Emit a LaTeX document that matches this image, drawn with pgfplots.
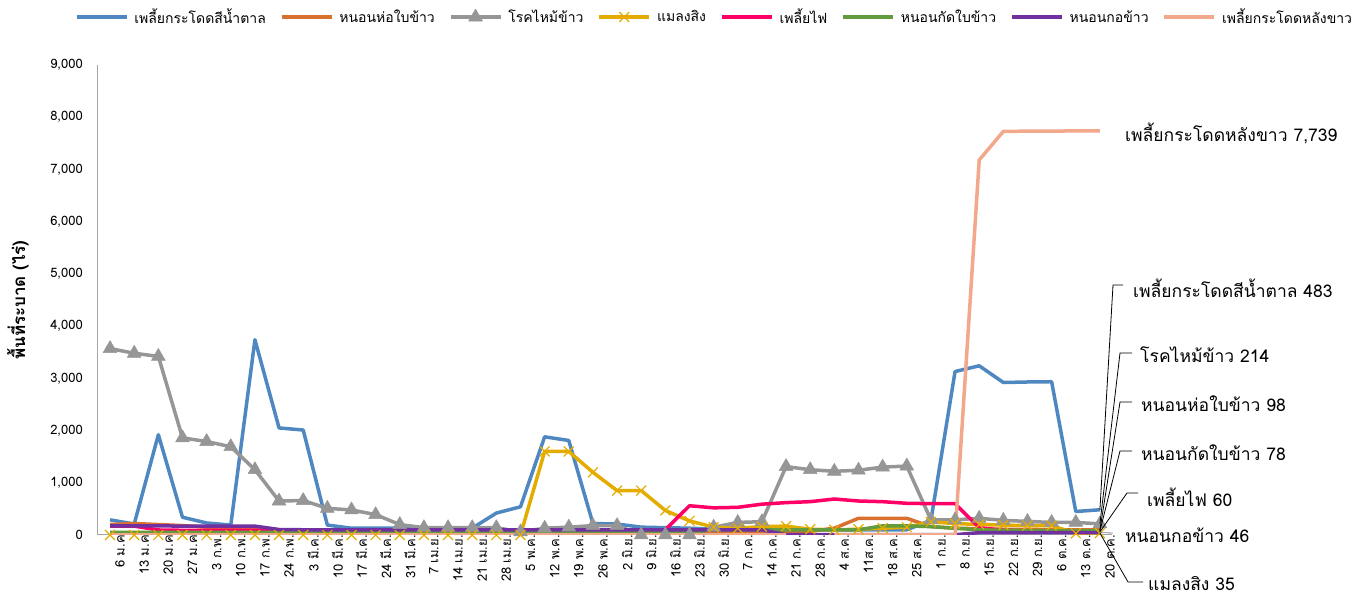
\documentclass[border=0pt]{standalone}
\usepackage{pgfplots}
\pgfplotsset{compat=1.18}
\usepackage{pgfplotstable}
\usepackage{fontspec}
\setmainfont{Loma}[Script=Thai]
\definecolor{cB}{HTML}{4F88C0}
\definecolor{cO}{HTML}{D8702F}
\definecolor{cG}{HTML}{969696}
\definecolor{cY}{HTML}{E5AC00}
\definecolor{cP}{HTML}{FF0066}
\definecolor{cGr}{HTML}{629C3E}
\definecolor{cPu}{HTML}{7030A0}
\definecolor{cS}{HTML}{F2A88A}
\pgfplotstableread{
i b o g y p gr pu s
0 290 200 3570 0 170 50 175 0
1 210 220 3480 0 170 50 175 0
2 1920 200 3420 0 96 50 175 0
3 340 180 1860 0 90 50 170 0
4 230 150 1790 0 90 50 170 0
5 190 120 1690 0 90 50 170 0
6 3740 100 1250 0 90 50 170 0
7 2050 80 650 0 90 50 105 0
8 2010 70 660 0 90 50 100 0
9 190 60 510 0 90 50 100 0
10 130 60 480 0 90 50 100 0
11 130 60 390 0 90 50 100 0
12 130 60 200 0 90 50 100 0
13 130 60 140 0 90 50 100 0
14 130 60 140 0 90 50 100 0
15 130 60 140 0 90 50 100 0
16 420 60 140 0 90 50 100 0
17 540 60 60 0 90 50 100 0
18 1880 60 130 1600 90 50 100 0
19 1810 60 150 1600 90 50 100 0
20 220 60 180 1200 90 50 100 0
21 210 60 180 850 90 50 100 0
22 150 60 0 850 90 50 100 0
23 140 60 0 470 100 50 100 0
24 130 60 0 270 560 50 100 0
25 110 60 150 150 520 100 100 0
26 100 60 240 130 530 100 100 0
27 100 60 255 160 590 100 100 0
28 100 60 1310 170 620 100 5 0
29 100 70 1250 110 638 100 5 nan
30 100 130 1220 100 689 100 5 0
31 100 320 1240 110 651 100 5 0
32 100 320 1300 130 638 175 5 0
33 100 320 1320 150 607 175 5 0
34 280 160 290 250 600 160 5 0
35 3130 130 290 220 600 130 5 0
36 3240 120 320 200 140 100 45 7180
37 2920 110 280 190 90 90 45 7730
38 2930 110 260 180 80 85 45 7732
39 2935 100 240 180 70 80 45 7735
40 450 100 240 30 65 80 45 7737
41 483 98 214 35 60 78 46 7739
}\datatable
\newcommand{\tickfont}{\fontsize{13}{15}\selectfont}
\newcommand{\annfont}{\fontsize{17.5}{20}\selectfont}
\begin{document}
\begin{tikzpicture}
\path[use as bounding box] (0,0) rectangle (1370pt,601pt);
\begin{axis}[
  at={(98pt,66pt)}, anchor=south west,
  scale only axis, width=1014pt, height=470pt,
  xmin=-0.5, xmax=41.5, ymin=0, ymax=9000,
  axis x line*=bottom, axis y line*=left,
  axis line style={draw=gray!70, line width=1pt},
  major tick length=0pt,
  xtick={0,...,41},
  xticklabels={{6 ม.ค},{13 ม.ค},{20 ม.ค},{27 ม.ค},{3 ก.พ.},{10 ก.พ.},{17 ก.พ.},{24 ก.พ.},{3 มี.ค.},{10 มี.ค.},{17 มี.ค.},{24 มี.ค.},{31 มี.ค.},{7 เม.ย.},{14 เม.ย.},{21 เม.ย.},{28 เม.ย.},{5 พ.ค.},{12 พ.ค.},{19 พ.ค.},{26 พ.ค.},{2 มิ.ย.},{9 มิ.ย.},{16 มิ.ย.},{23 มิ.ย.},{30 มิ.ย.},{7 ก.ค.},{14 ก.ค.},{21 ก.ค.},{28 ก.ค.},{4 ส.ค.},{11ส.ค.},{18 ส.ค.},{25 ส.ค.},{1 ก.ย.},{8 ก.ย.},{15 ก.ย.},{22 ก.ย.},{29 ก.ย.},{6 ต.ค.},{13 ต.ค.},{20 ต.ค.}},
  xticklabel style={rotate=90, anchor=east, inner sep=0pt, yshift=-10pt, font=\tickfont},
  ytick={0,1000,...,9000},
  yticklabel style={anchor=east, inner sep=0pt, xshift=-15pt, font=\tickfont},
  /pgf/number format/.cd, 1000 sep={,}, assume math mode=true, /pgfplots/.cd,
  ylabel={\bfseries พื้นที่ระบาด (ไร่)},
  ylabel style={at={(axis description cs:-0.079,0.5)}, anchor=center, rotate=0, font=\fontsize{17}{19}\selectfont},
  unbounded coords=jump,
  every axis plot/.append style={line width=3.5pt, line join=round},
  legend columns=8,
  legend cell align=left,
  legend image code/.code={\draw[mark repeat=2,mark phase=2,#1] plot coordinates {(0pt,0pt) (25pt,0pt) (50pt,0pt)};},
  legend style={at={(axis description cs:0.607,1.102)}, anchor=center, draw=none, fill=none,
    font=\fontsize{14}{16}\selectfont, inner sep=0pt, nodes={inner sep=0pt},
    /tikz/every odd column/.append style={column sep=6pt},
    /tikz/every even column/.append style={column sep=14pt}},
]
\addplot[cB] table[x=i,y=b]{\datatable}; \addlegendentry{เพลี้ยกระโดดสีน้ำตาล}
\addplot[cO] table[x=i,y=o]{\datatable}; \addlegendentry{หนอนห่อใบข้าว}
\addplot[cG, mark=triangle*, mark size=8pt, mark options={line width=0.5pt}] table[x=i,y=g]{\datatable}; \addlegendentry{โรคไหม้ข้าว}
\addplot[cY, mark=x, mark size=7pt, mark options={line width=1.2pt}] table[x=i,y=y]{\datatable}; \addlegendentry{แมลงสิง}
\addplot[cP] table[x=i,y=p]{\datatable}; \addlegendentry{เพลี้ยไฟ}
\addplot[cGr] table[x=i,y=gr]{\datatable}; \addlegendentry{หนอนกัดใบข้าว}
\addplot[cPu] table[x=i,y=pu]{\datatable}; \addlegendentry{หนอนกอข้าว}
\addplot[cS] table[x=i,y=s]{\datatable}; \addlegendentry{เพลี้ยกระโดดหลังขาว}
\coordinate (eB) at (axis cs:41,483);
\coordinate (eG) at (axis cs:41,214);
\coordinate (eO) at (axis cs:41,98);
\coordinate (eGr) at (axis cs:41,78);
\coordinate (eP) at (axis cs:41,60);
\coordinate (ePu) at (axis cs:41,46);
\coordinate (eY) at (axis cs:41,35);
\end{axis}
\begin{scope}[line width=0.8pt, black]
\draw (eB) -- (1113pt,316pt) -- (1123pt,316pt);
\draw (eG) -- (1120pt,248pt) -- (1132pt,248pt);
\draw (eO) -- (1120pt,199pt) -- (1132pt,199pt);
\draw (eGr) -- (1120pt,150pt) -- (1132pt,150pt);
\draw (eP) -- (1127pt,108pt) -- (1138pt,108pt);
\draw[gray] (ePu) -- (1113pt,68pt);
\draw (eY) -- (1128pt,19pt) -- (1143pt,19pt);
\end{scope}
\begin{scope}[every node/.style={anchor=west, inner sep=0pt, font=\annfont}]
\node at (1125pt,468pt) {เพลี้ยกระโดดหลังขาว 7,739};
\node at (1133pt,313pt) {เพลี้ยกระโดดสีน้ำตาล 483};
\node at (1140pt,246pt) {โรคไหม้ข้าว 214};
\node at (1141pt,197pt) {หนอนห่อใบข้าว 98};
\node at (1141pt,148pt) {หนอนกัดใบข้าว 78};
\node at (1147pt,104pt) {เพลี้ยไฟ 60};
\node at (1125pt,66pt) {หนอนกอข้าว 46};
\node at (1148pt,17pt) {แมลงสิง 35};
\end{scope}
\end{tikzpicture}
\end{document}
